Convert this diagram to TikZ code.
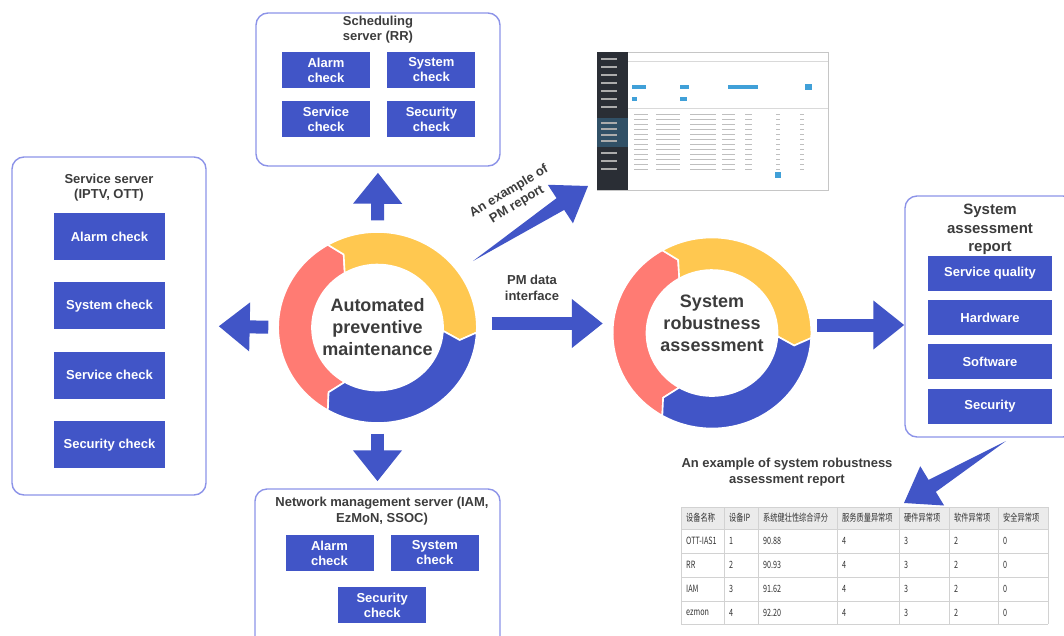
\documentclass[tikz,border=0pt]{standalone}
\usepackage{fontspec}
\setmainfont{Liberation Sans}
\newfontfamily\cjkfont[FakeStretch=0.72]{Noto Sans CJK SC}
\usetikzlibrary{arrows.meta,positioning,calc}

\definecolor{boxblue}{RGB}{65,85,199}
\definecolor{ringred}{RGB}{255,123,115}
\definecolor{ringyel}{RGB}{255,200,80}
\definecolor{frameline}{RGB}{140,147,232}
\definecolor{txtgray}{RGB}{60,60,60}
\definecolor{shotblue}{RGB}{64,160,216}
\definecolor{shotdark}{RGB}{42,46,53}

% one piece of a ring: start angle, end angle, colour
\newcommand{\ringpart}[3]{%
  \fill[#3, draw=white, line width=1.6pt] (#1:95.5pt) arc[start angle=#1, end angle=#2, radius=95.5pt]
    -- (#2-6:80pt) -- (#2:63pt) arc[start angle=#2, end angle=#1, radius=63pt] -- (#1-6:80pt) -- cycle;}

% tapered arrow: tail, tip
\newcommand{\wedgearrow}[2]{%
  \coordinate (hb) at ($(#2)!33pt!(#1)$);
  \fill[boxblue] (#1) -- ($(hb)!7pt!90:(#2)$) -- ($(hb)!23pt!90:(#2)$) -- (#2)
    -- ($(hb)!23pt!-90:(#2)$) -- ($(hb)!7pt!-90:(#2)$) -- cycle;}

\begin{document}
\begin{tikzpicture}[x=1pt, y=-1pt,
    frame/.style={draw=frameline, line width=1.4pt, rounded corners=12pt, inner sep=0pt},
    chk/.style={fill=boxblue, text=white, font=\fontsize{13}{15}\selectfont\bfseries, align=center, inner sep=0pt},
    chkwide/.style={chk, minimum width=111pt, minimum height=47pt},
    chksmall/.style={chk, minimum width=88pt, minimum height=36pt},
    chkrep/.style={chk, minimum width=124pt, minimum height=35pt},
    title/.style={text=txtgray, font=\fontsize{13}{15.5}\selectfont\bfseries, align=center},
    ringtext/.style={circle, minimum size=192pt, inner sep=0pt, text=txtgray, font=\fontsize{18}{22}\selectfont\bfseries, align=center},
    bigarrow/.style={draw=boxblue, line width=13pt, -{Triangle[width=47pt, length=31pt]}},
    cell/.style={anchor=west, inner sep=0pt, text=black!80, font=\cjkfont\fontsize{10}{11}\selectfont},
]
\useasboundingbox (0,0) rectangle (1064,635);

% Rings
\begin{scope}[shift={(377.5,327.5)}, xscale=1.04]
  \ringpart{240}{120}{ringred}
  \ringpart{120}{-3}{ringyel}
  \ringpart{-3}{-120}{boxblue}
\end{scope}
\begin{scope}[shift={(712,333)}, xscale=1.04]
  \ringpart{240}{120}{ringred}
  \ringpart{120}{-3}{ringyel}
  \ringpart{-3}{-120}{boxblue}
\end{scope}
\node[ringtext] (apm) at (377.5,327.5) {Automated\\preventive\\maintenance};
\node[ringtext] (sra) at (712,333) {};
\node[ringtext, minimum size=0pt] at ([yshift=10pt]sra.center) {System\\robustness\\assessment};

% Service server
\node[frame, minimum width=194pt, minimum height=338pt] (svc) at (109,326) {};
\node[title] at (109,187.5) {Service server\\(IPTV, OTT)};
\node[chkwide] (svc1) at (109.5,236.5) {Alarm check};
\node[chkwide, below=22pt of svc1] (svc2) {System check};
\node[chkwide, below=22pt of svc2] (svc3) {Service check};
\node[chkwide, below=22pt of svc3] (svc4) {Security check};

% Scheduling server
\node[frame, minimum width=244pt, minimum height=153pt] (rr) at (378,89.5) {};
\node[title] at (378,29.5) {Scheduling\\server (RR)};
\node[chksmall] (rr1) at (326,70) {Alarm\\check};
\node[chksmall, right=17pt of rr1] (rr2) {System\\check};
\node[chksmall, below=13pt of rr1] (rr3) {Service\\check};
\node[chksmall, below=13pt of rr2] (rr4) {Security\\check};

% Network management server
\node[frame, minimum width=245pt, minimum height=161pt] (nms) at (377.5,569.5) {};
\node[title] at (382,511) {Network management server (IAM,\\EzMoN, SSOC)};
\node[chksmall] (nm1) at (329.5,553) {Alarm\\check};
\node[chksmall, right=17pt of nm1] (nm2) {System\\check};
\coordinate (nmmid) at ($(nm1.south)!0.5!(nm2.south)$);
\node[chksmall, below=16pt of nmmid] (nm3) {Security\\check};

% System assessment report
\node[frame, minimum width=170pt, minimum height=241pt] (rep) at (990,316.5) {};
\node[title, font=\fontsize{15}{18.5}\selectfont\bfseries] at (990,229.5) {System\\assessment\\report};
\node[chkrep] (rq1) at (990,273) {Service quality};
\node[chkrep, below=9pt of rq1] (rq2) {Hardware};
\node[chkrep, below=9pt of rq2] (rq3) {Software};
\node[chkrep, below=9pt of rq3] (rq4) {Security};

% Arrows
\draw[bigarrow, shorten <=13pt, shorten >=12pt] (apm.west) -- (svc.east);
\draw[bigarrow, shorten <=11pt, shorten >=6pt] (apm.north) -- (rr.south);
\draw[bigarrow, shorten <=10pt, shorten >=7pt] (apm.south) -- (nms.north);
\draw[bigarrow, shorten <=18pt, shorten >=13pt] ([yshift=4pt]apm.east) -- ([yshift=4pt]apm.east -| sra.west);
\draw[bigarrow, shorten <=9pt] ([yshift=8pt]sra.east) -- ([yshift=8pt]sra.east -| rep.west);
\node[title] at (532,288) {PM data\\interface};

% PM report screenshot
\node[draw=gray!45, fill=white, minimum width=231pt, minimum height=138pt, inner sep=0pt, anchor=north west] (pmshot) at (597,52) {};
\fill[shotdark] (597,52) rectangle (628,190);
\fill[shotdark!70!shotblue] (597,118) rectangle (628,147);
\foreach \y in {58,66,74,82,90,98,106,122,128,134,140,152,160,168}
  \fill[gray!65] (601,\y) rectangle (617,\y+1.5);
\draw[gray!30] (628,61) -- (828,61);
\draw[gray!30] (628,108) -- (828,108);
\fill[shotblue] (632,85) rectangle (646,89);
\fill[shotblue] (680,85) rectangle (689,89);
\fill[shotblue] (728,85) rectangle (758,89);
\fill[shotblue] (805,84) rectangle (812,90);
\fill[shotblue] (632,97) rectangle (637,101);
\fill[shotblue] (680,97) rectangle (687,101);
\foreach \y in {114,119,...,169}
  \foreach \a/\b in {634/648, 656/680, 690/716, 722/735, 745/752, 776/780, 800/804}
    \fill[gray!50] (\a,\y) rectangle (\b,\y+1.2);
\fill[shotblue] (775,172) rectangle (781,178);
\wedgearrow{473,261}{588,186}
\node[title, rotate=31] at (513,198) {An example of\\PM report};

% Robustness table
\node[title] at (787,472) {An example of system robustness\\assessment report};
\fill[gray!16] (681,507) rectangle (1048,529);
\foreach \y in {507,529,553,577,601,624}
  \draw[gray!35, line width=0.8pt] (681,\y) -- (1048,\y);
\foreach \x in {681,724,758,837,899,949,998,1048}
  \draw[gray!35, line width=0.8pt] (\x,507) -- (\x,624);
\foreach \x/\txt in {686/设备名称, 729/设备IP, 763/系统健壮性综合评分, 842/服务质量异常项, 904/硬件异常项, 954/软件异常项, 1003/安全异常项}
  \node[cell] at (\x,518) {\txt};
\foreach \y/\a/\b/\c in {541/OTT-IAS1/1/90.88, 565/RR/2/90.93, 589/IAM/3/91.62, 612.5/ezmon/4/92.20} {
  \node[cell] at (686,\y) {\a};
  \node[cell] at (729,\y) {\b};
  \node[cell] at (763,\y) {\c};
  \node[cell] at (842,\y) {4};
  \node[cell] at (904,\y) {3};
  \node[cell] at (954,\y) {2};
  \node[cell] at (1003,\y) {0};
}
\wedgearrow{1006,441}{904,503}

\end{tikzpicture}
\end{document}
